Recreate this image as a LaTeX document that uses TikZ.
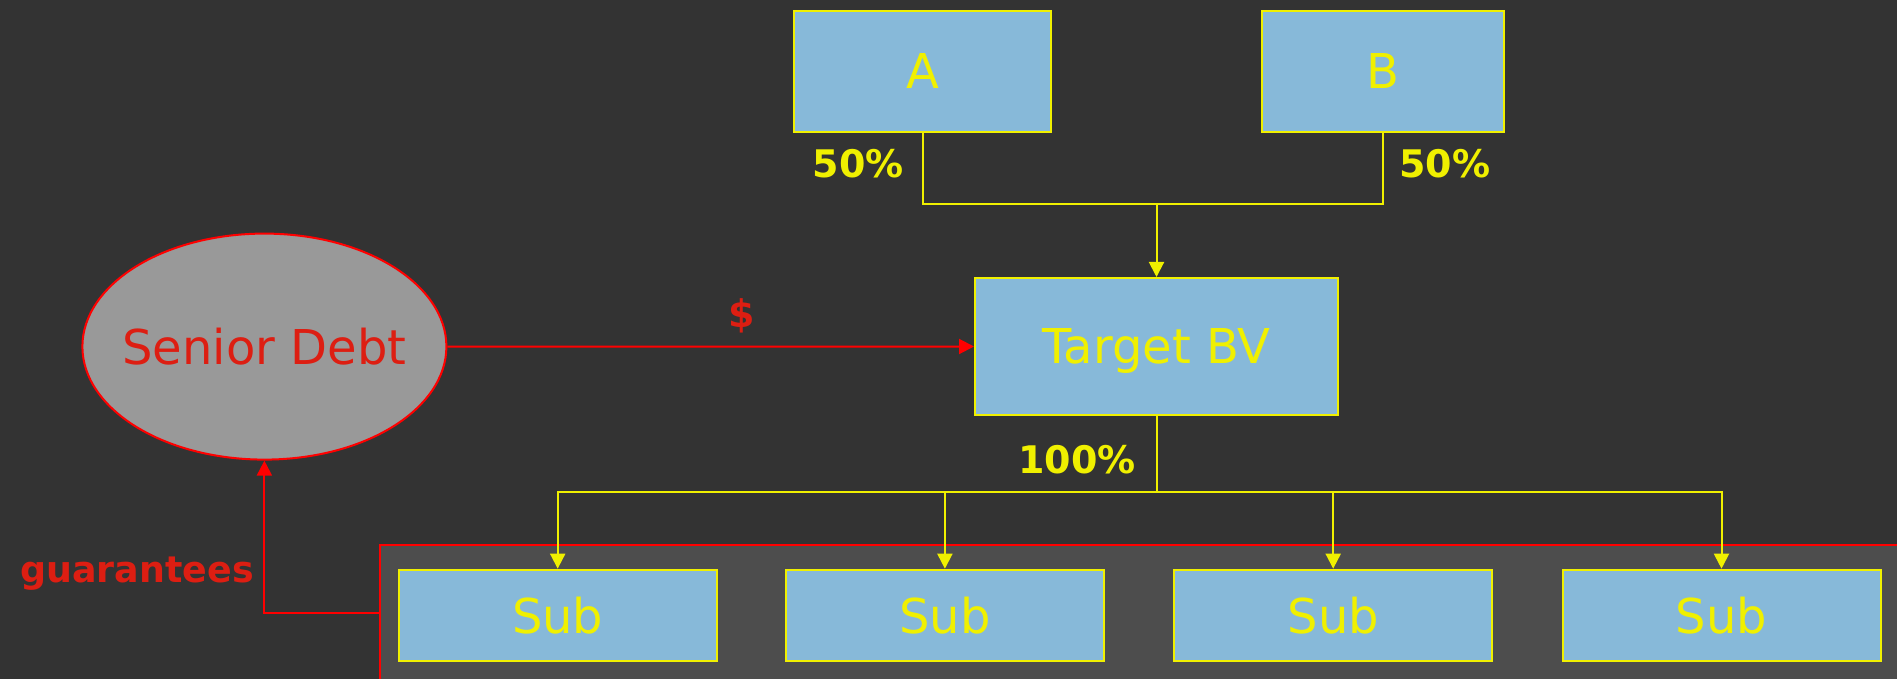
\documentclass[tikz,border=0pt]{standalone}
\usepackage{fontspec}
\setmainfont{DejaVu Sans}
\usetikzlibrary{arrows.meta,shapes.geometric}
\definecolor{bgdark}{HTML}{333333}
\definecolor{groupfill}{HTML}{4D4D4D}
\definecolor{boxblue}{HTML}{87B9D9}
\definecolor{linkyellow}{HTML}{F0F000}
\definecolor{linkred}{HTML}{FF0000}
\definecolor{textred}{HTML}{DD1E12}
\definecolor{debtgrey}{HTML}{999999}
\tikzset{
  entity/.style={draw=linkyellow, line width=1pt, fill=boxblue, text=linkyellow,
    font=\fontsize{24}{28}\selectfont, inner sep=0pt, text depth=0pt},
  share/.style={text=linkyellow, font=\bfseries\fontsize{19}{22}\selectfont,
    inner sep=0pt, anchor=base},
  redlabel/.style={text=textred, font=\bfseries\fontsize{19}{22}\selectfont,
    inner sep=0pt, anchor=base},
  owns/.style={draw=linkyellow, line width=1pt},
  ownsarrow/.style={owns, -{Triangle[width=7.5pt,length=7.5pt]}},
  flow/.style={draw=linkred, line width=1pt, -{Triangle[width=7.5pt,length=7.5pt]}}
}
\begin{document}
\begin{tikzpicture}[x=0.5pt,y=-0.5pt]
\fill[bgdark] (0,0) rectangle (1897,679);
\useasboundingbox (0,0) rectangle (1897,679);
\clip (0,0) rectangle (1897,679);

% group of subsidiaries
\node[draw=linkred, line width=1pt, fill=groupfill, anchor=north west,
  minimum width=766pt, minimum height=80pt, inner sep=0pt] (group) at (378.7,544.4) {};

% shareholders
\node[entity, minimum width=128.9pt, minimum height=60.5pt] (A) at (922.5,71.4) {A};
\node[entity, minimum width=121pt, minimum height=60.5pt] (B) at (1382.8,71.4) {B};

% target company
\node[entity, minimum width=181.5pt, minimum height=68.5pt] (T) at (1156.5,346.5) {Target BV};

% lender (the text box is kept narrow so the ellipse keeps its own size)
\node[ellipse, draw=linkred, line width=1pt, fill=debtgrey, text=textred,
  minimum width=182pt, minimum height=113pt, inner sep=0pt,
  font=\fontsize{24}{28}\selectfont] (SD) at (264.4,346.6) {\makebox[0pt]{Senior Debt}};

% subsidiaries
\foreach \i/\x in {1/557.7, 2/944.9, 3/1333.2, 4/1721.5}{
  \node[entity, minimum width=159pt, minimum height=45.5pt] (sub\i) at (\x,615.2) {Sub};
}

% ownership of the target
\coordinate (j) at (T.north |- 0,204.5);
\draw[owns] (A.south) |- (j);
\draw[owns] (B.south) |- (j);
\draw[ownsarrow] (j) -- (T.north);
\node[share] (pa) at (858.4,178) {50\%};
\node[share] (pb) at (1445,178) {50\%};

% ownership of the subsidiaries
\coordinate (k) at (T.south |- 0,492.4);
\draw[owns] (T.south) -- (k);
\foreach \i in {1,...,4}{
  \draw[ownsarrow] (k) -| (sub\i.north);
}
\node[share] (pt) at (1077,473.3) {100\%};

% financing and guarantees
\draw[flow] (SD.east) -- (T.west);
\node[redlabel] (cash) at (741.6,328) {\$};
\coordinate (g) at (group.west |- 0,612.5);
\draw[flow] (g) -| (SD.south);
\node[redlabel, anchor=base west, font=\bfseries\fontsize{18.2}{22}\selectfont]
  (guar) at (20,582.5) {guarantees};
\end{tikzpicture}
\end{document}
